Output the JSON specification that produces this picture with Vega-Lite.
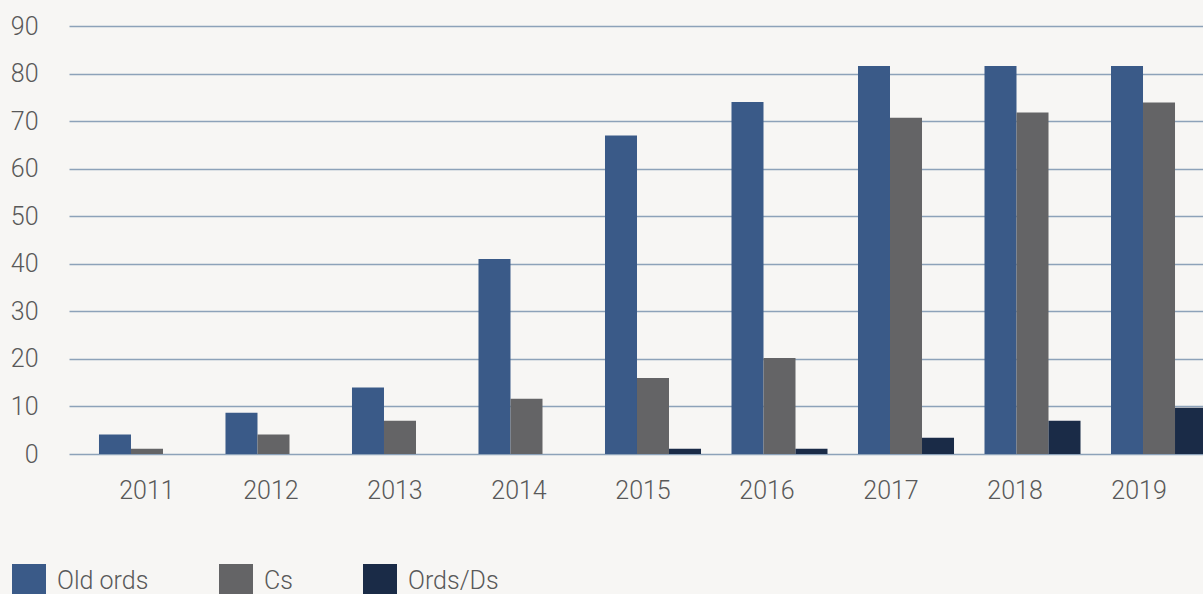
{
  "$schema": "https://vega.github.io/schema/vega-lite/v6.json",
  "autosize": "none",
  "width": 1168,
  "height": 428,
  "padding": {"left": 69, "top": 26, "right": 0, "bottom": 140},
  "background": "#f7f6f4",
  "config": {
    "view": {"stroke": null},
    "font": "Roboto"
  },
  "data": {
    "values": [
      {"year": "2011", "series": "Old ords", "value": 4.1},
      {"year": "2011", "series": "Cs", "value": 1.1},
      {"year": "2011", "series": "Ords/Ds", "value": 0},
      {"year": "2012", "series": "Old ords", "value": 8.7},
      {"year": "2012", "series": "Cs", "value": 4.1},
      {"year": "2012", "series": "Ords/Ds", "value": 0},
      {"year": "2013", "series": "Old ords", "value": 14},
      {"year": "2013", "series": "Cs", "value": 7},
      {"year": "2013", "series": "Ords/Ds", "value": 0},
      {"year": "2014", "series": "Old ords", "value": 41},
      {"year": "2014", "series": "Cs", "value": 11.6},
      {"year": "2014", "series": "Ords/Ds", "value": 0},
      {"year": "2015", "series": "Old ords", "value": 67},
      {"year": "2015", "series": "Cs", "value": 16},
      {"year": "2015", "series": "Ords/Ds", "value": 1.1},
      {"year": "2016", "series": "Old ords", "value": 74},
      {"year": "2016", "series": "Cs", "value": 20.2},
      {"year": "2016", "series": "Ords/Ds", "value": 1.1},
      {"year": "2017", "series": "Old ords", "value": 81.6},
      {"year": "2017", "series": "Cs", "value": 70.7},
      {"year": "2017", "series": "Ords/Ds", "value": 3.4},
      {"year": "2018", "series": "Old ords", "value": 81.6},
      {"year": "2018", "series": "Cs", "value": 71.8},
      {"year": "2018", "series": "Ords/Ds", "value": 7},
      {"year": "2019", "series": "Old ords", "value": 81.6},
      {"year": "2019", "series": "Cs", "value": 73.9},
      {"year": "2019", "series": "Ords/Ds", "value": 9.7}
    ]
  },
  "mark": {"type": "bar"},
  "encoding": {
    "x": {
      "field": "year",
      "type": "nominal",
      "scale": {"paddingInner": 0.241, "paddingOuter": 0.237},
      "axis": {
        "title": null,
        "domain": false,
        "ticks": false,
        "labelAngle": 0,
        "labelFontSize": 25,
        "labelFontWeight": 300,
        "labelColor": "#595959",
        "labelPadding": 24,
        "labelOffset": {"expr": "-(toNumber(datum.value) - 2011) * 2.5"}
      }
    },
    "xOffset": {
      "field": "series",
      "type": "nominal",
      "sort": ["Old ords", "Cs", "Ords/Ds"],
      "scale": {"paddingInner": 0, "paddingOuter": 0}
    },
    "y": {
      "field": "value",
      "type": "quantitative",
      "scale": {"domain": [0, 90], "nice": false},
      "axis": {
        "title": null,
        "values": [0, 10, 20, 30, 40, 50, 60, 70, 80, 90],
        "domain": false,
        "ticks": false,
        "labelFontSize": 25,
        "labelFontWeight": 300,
        "labelColor": "#595959",
        "labelPadding": 31,
        "gridColor": "#8da2b9",
        "gridWidth": 1.5
      }
    },
    "color": {
      "field": "series",
      "type": "nominal",
      "sort": ["Old ords", "Cs", "Ords/Ds"],
      "scale": {
        "domain": ["Old ords", "Cs", "Ords/Ds"],
        "range": ["#3a5a88", "#646466", "#1a2b47"]
      },
      "legend": {
        "title": null,
        "orient": "none",
        "direction": "horizontal",
        "legendX": -57,
        "legendY": 538,
        "symbolType": "square",
        "symbolSize": 1156,
        "symbolStrokeWidth": 0,
        "symbolOpacity": 1,
        "labelFontSize": 25,
        "labelFontWeight": 300,
        "labelColor": "#595959",
        "labelOffset": 11,
        "columnPadding": 70
      }
    }
  }
}
